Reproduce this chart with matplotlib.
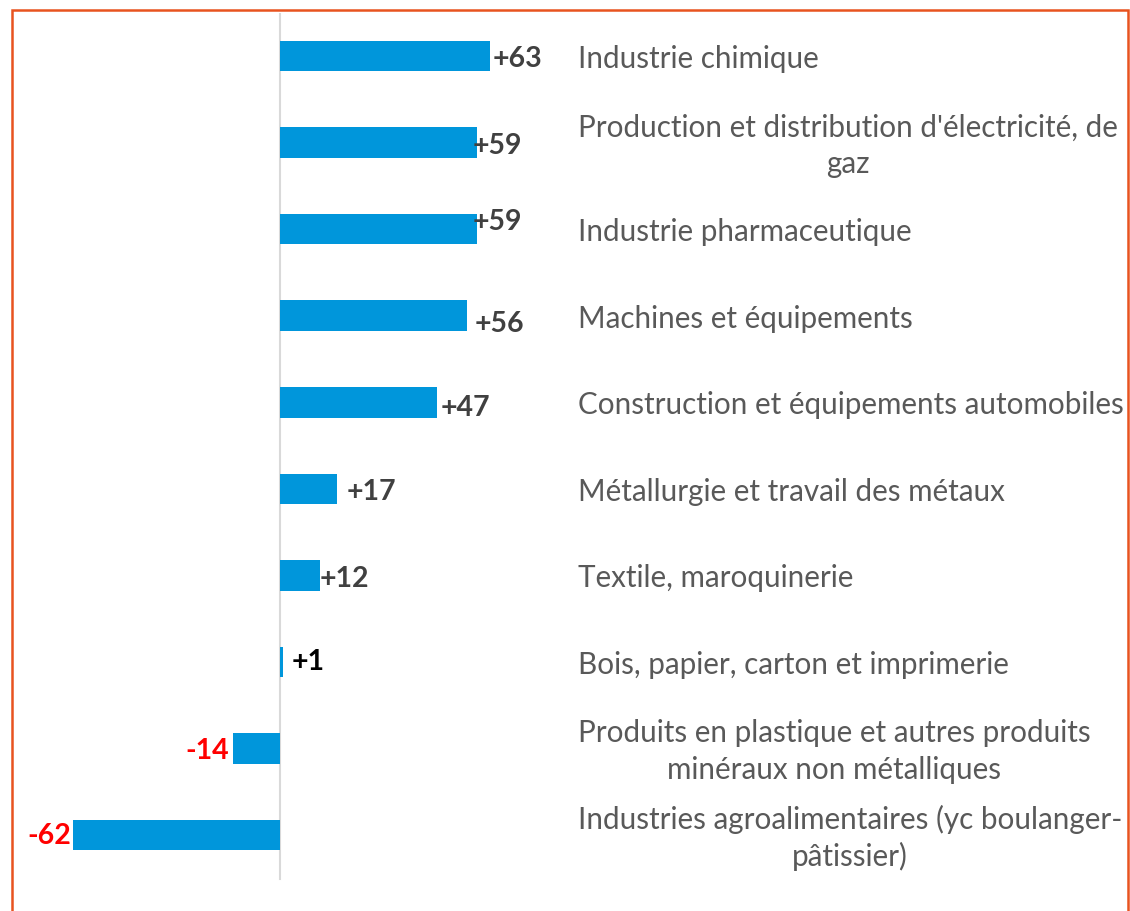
import matplotlib
matplotlib.use("Agg")
import matplotlib.pyplot as plt
from matplotlib.patches import Rectangle
import matplotlib.transforms as mtransforms

categories = [
    "Industrie chimique",
    "Production et distribution d'électricité, de\ngaz",
    "Industrie pharmaceutique",
    "Machines et équipements",
    "Construction et équipements automobiles",
    "Métallurgie et travail des métaux",
    "Textile, maroquinerie",
    "Bois, papier, carton et imprimerie",
    "Produits en plastique et autres produits\nminéraux non métalliques",
    "Industries agroalimentaires (yc boulanger-\npâtissier)",
]
values = [63, 59, 59, 56, 47, 17, 12, 1, -14, -62]
value_labels = ["+63", "+59", "+59", "+56", "+47", "+17", "+12", "+1", "-14", "-62"]

# label offsets in pixels (dx right, dy down) relative to bar end, as in the reference
label_offsets = [(2, 2), (-4, 2), (-4, -8), (8, 7), (4, 5), (10, 2), (0, 3), (8, -1), (-4, 2), (-2, 0)]

W, H = 1130, 912
fig = plt.figure(figsize=(W / 100, H / 100), dpi=100)
ax = fig.add_axes([0, 0, 1, 1])

px_per_unit = 3.34
x0 = 280
ax.set_xlim(-x0 / px_per_unit, (W - x0) / px_per_unit)
row0, rowstep = 57, 86.56
ax.set_ylim((H - row0) / rowstep, -row0 / rowstep)
ax.axis("off")

ypos = list(range(len(categories)))
ax.barh(ypos, values, height=0.353, color="#0096DB", zorder=2)

ax.axvline(0, ymin=(H - 880) / H, ymax=(H - 15) / H, color="#D9D9D9", lw=1.5, zorder=1)

for i, (v, lab, (dx, dy)) in enumerate(zip(values, value_labels, label_offsets)):
    color = "#FF0000" if v < 0 else "#404040"
    if v == 1:
        color = "#000000"
    ha = "right" if v < 0 else "left"
    ax.annotate(lab, (v, i), xytext=(dx, -dy), textcoords="offset pixels",
                ha=ha, va="center", fontsize=20.5, fontweight="bold", color=color,
                family="Lato", zorder=3)

trans = mtransforms.blended_transform_factory(ax.transAxes, ax.transData)
for i, cat in enumerate(categories):
    ax.annotate(cat, (578 / W, i), xycoords=trans, xytext=(0, -2),
                textcoords="offset pixels", ha="left", va="center",
                multialignment="center", fontsize=21.3, color="#595959", family="Lato",
                linespacing=1.36)

fig.patches.append(Rectangle((12 / W, -0.02), (1128 - 12) / W, (H - 11) / H + 0.02,
                             transform=fig.transFigure, fill=False,
                             edgecolor="#E8531F", lw=1.8))

fig.savefig("out.png", dpi=100)
